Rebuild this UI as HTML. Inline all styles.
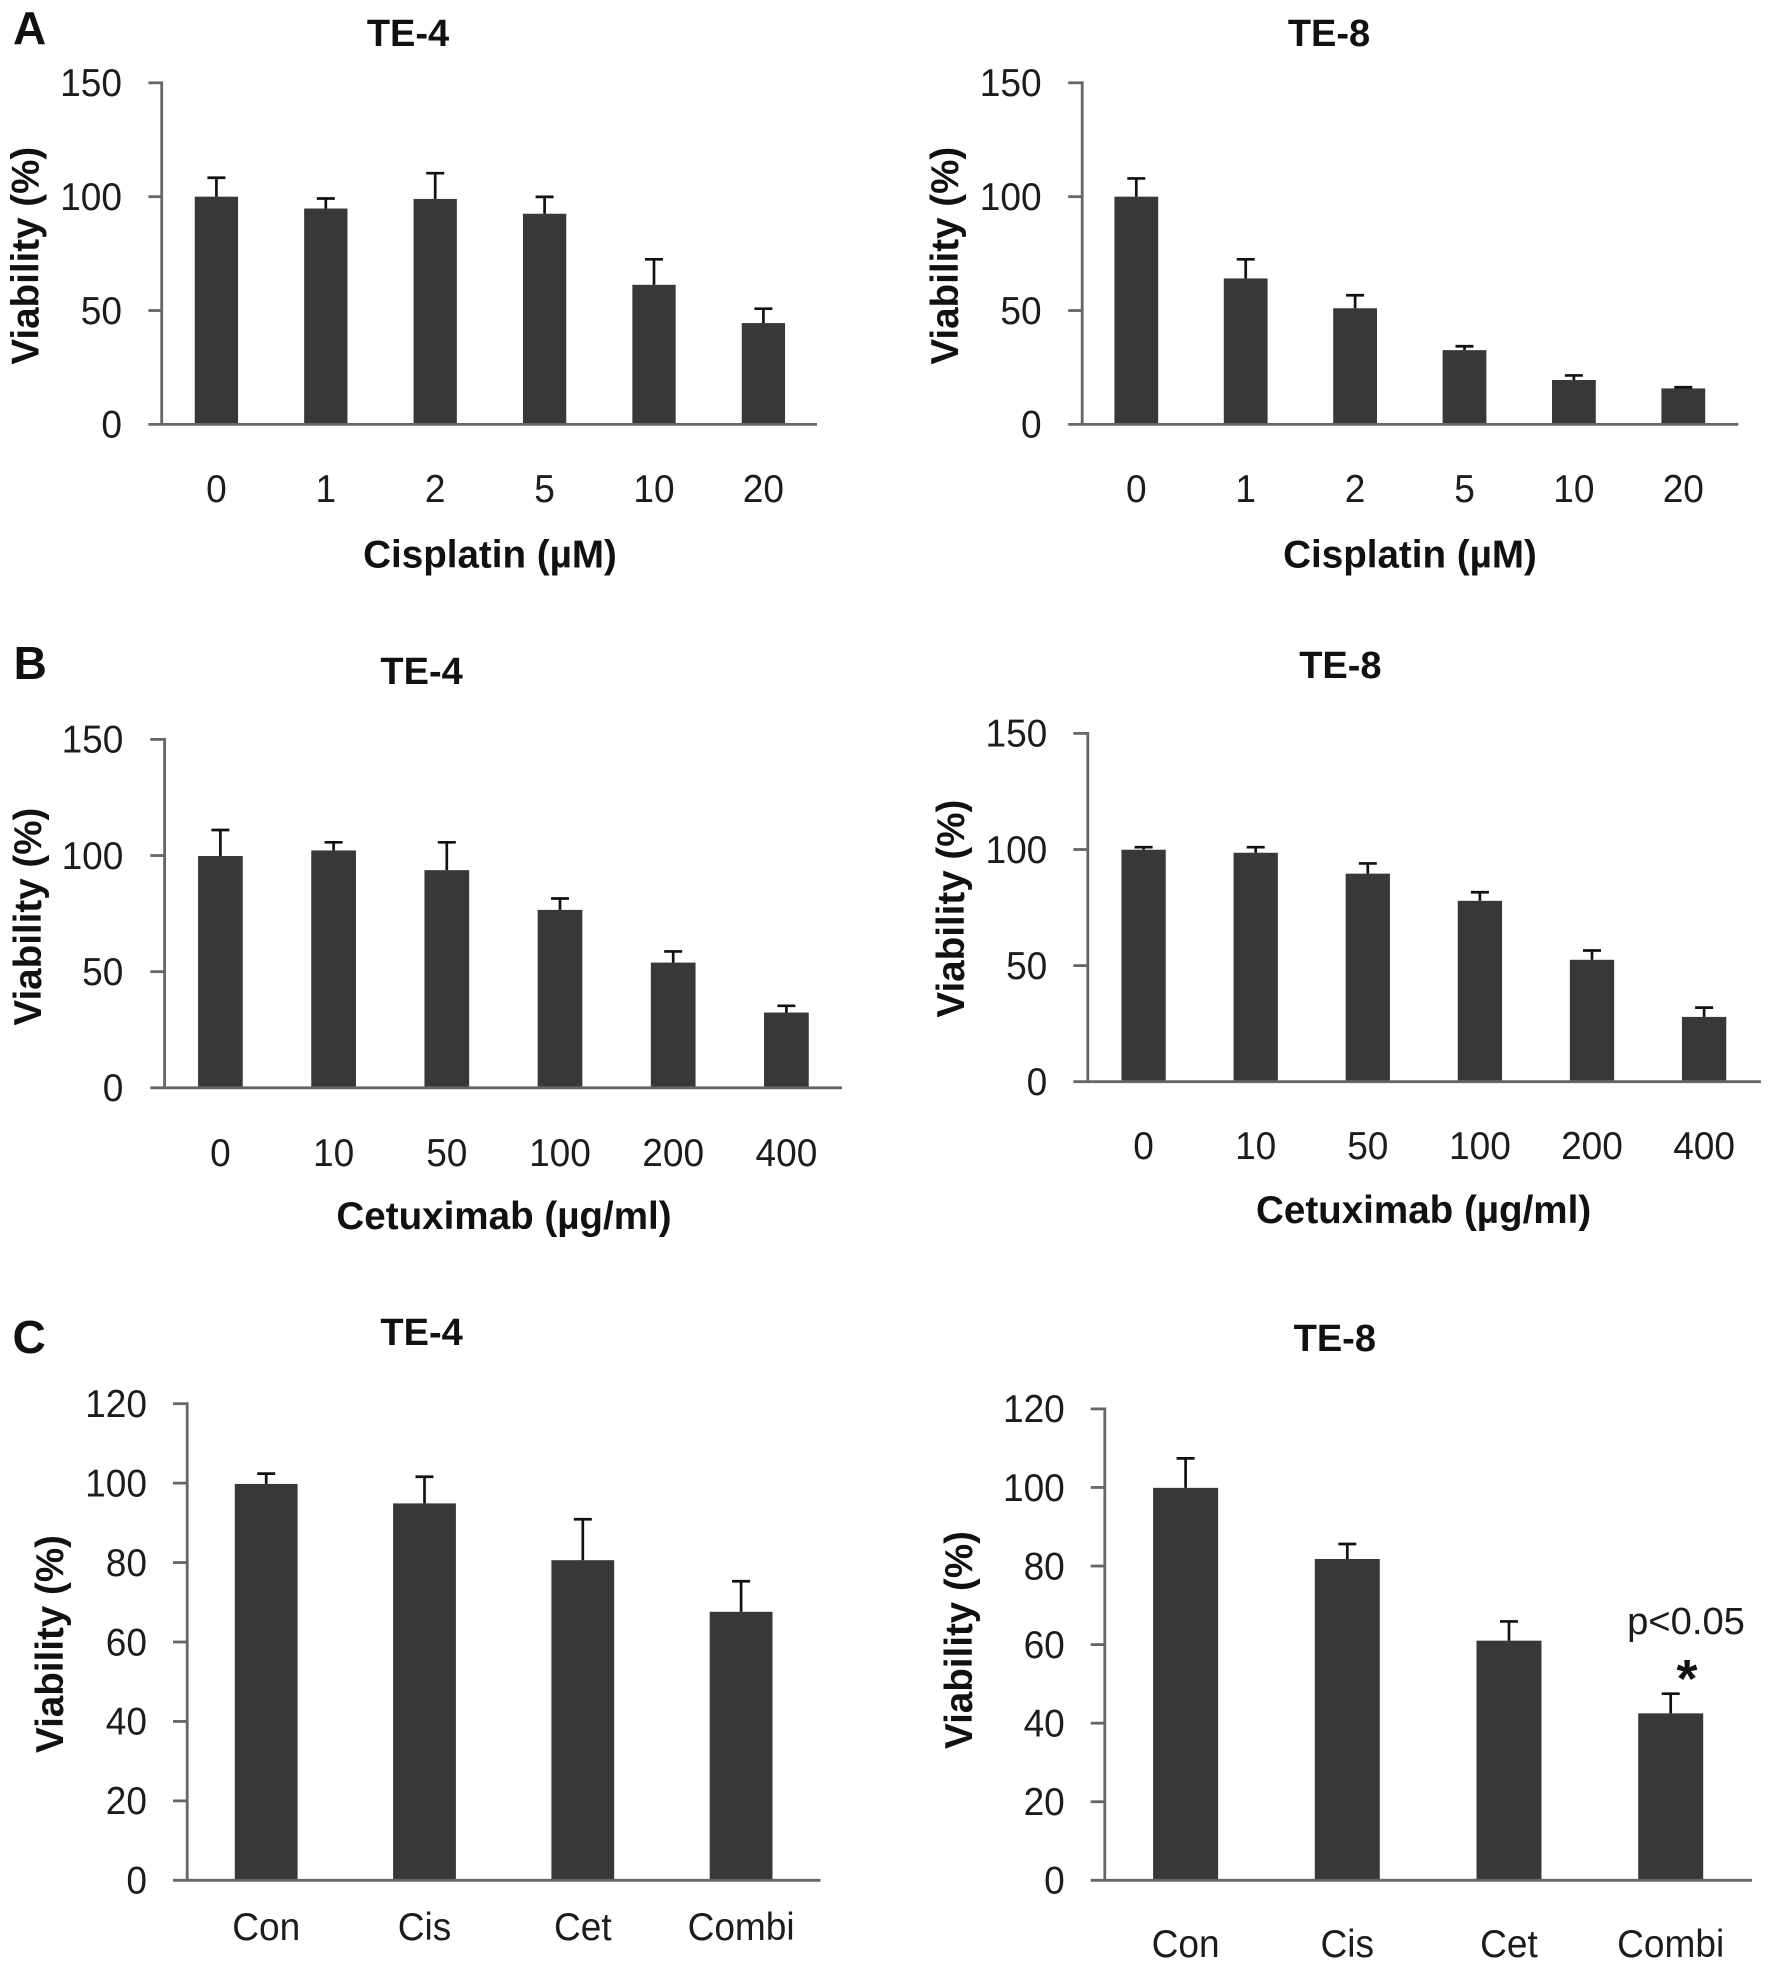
<!DOCTYPE html>
<html lang="en">
<head>
<meta charset="utf-8">
<title>Cell viability bar charts</title>
<style>
html,body{margin:0;padding:0;background:#fff;}
svg{display:block;}
text{font-family:"Liberation Sans","Noto Sans CJK KR",sans-serif;fill:#111;}
.bold{font-weight:bold;}
.title{font-size:38px;font-weight:bold;text-anchor:middle;}
.xlab{font-size:38.6px;font-weight:bold;text-anchor:middle;}
.ylab{font-size:38.6px;font-weight:bold;text-anchor:middle;}
.letter{font-size:46px;font-weight:bold;}
.tick{font-size:39px;fill:#1c1c1c;}
</style>
</head>
<body>
<svg id="figure" width="1772" height="1974" viewBox="0 0 1772 1974" xmlns="http://www.w3.org/2000/svg">
  <rect x="0" y="0" width="1772" height="1974" fill="#ffffff"/>

  <text class="letter" x="13" y="44">A</text>
  <text class="letter" x="13.6" y="679">B</text>
  <text class="letter" x="12.5" y="1353">C</text>

  <text class="title" x="408" y="46">TE-4</text>
  <text class="title" x="1329" y="46">TE-8</text>
  <text class="title" x="421.6" y="684">TE-4</text>
  <text class="title" x="1340.4" y="678">TE-8</text>
  <text class="title" x="421.6" y="1345">TE-4</text>
  <text class="title" x="1334.8" y="1351">TE-8</text>

  <text class="xlab" x="490" y="567.3">Cisplatin (µM)</text>
  <text class="xlab" x="1410" y="567.3">Cisplatin (µM)</text>
  <text class="xlab" x="504" y="1229">Cetuximab (µg/ml)</text>
  <text class="xlab" x="1423.6" y="1223">Cetuximab (µg/ml)</text>

  <text class="ylab" transform="translate(38.5 255.7) rotate(-90)">Viability (%)</text>
  <text class="ylab" transform="translate(958 255.7) rotate(-90)">Viability (%)</text>
  <text class="ylab" transform="translate(41 916.6) rotate(-90)">Viability (%)</text>
  <text class="ylab" transform="translate(964 908.6) rotate(-90)">Viability (%)</text>
  <text class="ylab" transform="translate(63 1644) rotate(-90)">Viability (%)</text>
  <text class="ylab" transform="translate(972 1640) rotate(-90)">Viability (%)</text>

  <text class="tick" style="font-size:38.2px" x="1686" y="1634" text-anchor="middle">p&lt;0.05</text>
  <text class="bold" x="1687" y="1697" text-anchor="middle" font-size="54">*</text>
</svg>

<script>
// ---- chart data ----
const cisplatinDoses = ["0", "1", "2", "5", "10", "20"];
const cetuximabDoses = ["0", "10", "50", "100", "200", "400"];
const treatmentGroups = ["Con", "Cis", "Cet", "Combi"];
const doseTicks = [0, 50, 100, 150];
const treatmentTicks = [0, 20, 40, 60, 80, 100, 120];

const aTe4Values = [100, 94.8, 99, 92.5, 61.3, 44.5];
const aTe4Errors = [8.3, 4.4, 11.3, 7.4, 11.2, 6.3];
const aTe8Values = [100, 64.1, 51, 32.6, 19.5, 15.8];
const aTe8Errors = [8, 8.4, 5.7, 1.7, 2, 0.5];
const bTe4Values = [99.8, 102.2, 93.7, 76.6, 53.9, 32.4];
const bTe4Errors = [11.2, 3.5, 12, 4.9, 4.8, 2.9];
const bTe8Values = [99.9, 98.6, 89.6, 77.9, 52.5, 27.9];
const bTe8Errors = [1.1, 2.4, 4.4, 3.7, 4, 4];
const cTe4Values = [99.8, 94.9, 80.6, 67.6];
const cTe4Errors = [2.6, 6.7, 10.3, 7.7];
const cTe8Values = [99.9, 81.8, 61, 42.5];
const cTe8Errors = [7.5, 3.8, 4.9, 5];

// ---- drawing ----
const NS = "http://www.w3.org/2000/svg";
const figure = document.getElementById("figure");
const AXIS = "#666666", BAR = "#383838", ERR = "#111111";
const TICK_SQUEEZE = 0.95;

function node(tag, group) {
  const n = document.createElementNS(NS, tag);
  group.appendChild(n);
  return n;
}
function seg(group, x1, y1, x2, y2, color, width) {
  const l = node("line", group);
  l.setAttribute("x1", x1);
  l.setAttribute("y1", y1);
  l.setAttribute("x2", x2);
  l.setAttribute("y2", y2);
  l.setAttribute("stroke", color);
  l.setAttribute("stroke-width", width);
  return l;
}
function squeeze(label) {
  label.setAttribute("textLength", label.getComputedTextLength() * TICK_SQUEEZE);
  label.setAttribute("lengthAdjust", "spacingAndGlyphs");
}

function drawPanel(p) {
  const g = node("g", figure);
  
  

  const maxTick = p.ticks[p.ticks.length - 1];
  const yScale = v => p.y0 + (p.yMax - p.y0) * (v / maxTick);
  const xScale = i => p.first + i * p.step;

  p.values.forEach((v, i) => {
    const cx = xScale(i);
    const bar = node("rect", g);
    
    
    bar.setAttribute("x", cx - p.barW / 2);
    bar.setAttribute("y", yScale(v));
    bar.setAttribute("width", p.barW);
    bar.setAttribute("height", p.y0 - yScale(v));
    bar.setAttribute("fill", BAR);

    const top = yScale(v + p.errors[i]);
    const stem = seg(g, cx, yScale(v), cx, top, ERR, 2.7);
    
    
    const cap = seg(g, cx - 9, top, cx + 9, top, ERR, 2.7);
    
    

    const label = node("text", g);
    
    
    label.setAttribute("class", "tick");
    label.setAttribute("x", cx);
    label.setAttribute("y", p.xLabelY);
    label.setAttribute("text-anchor", "middle");
    label.textContent = p.cats[i];
    squeeze(label);
  });

  const yAxis = seg(g, p.axisX, yScale(maxTick) - 1.4, p.axisX, p.y0, AXIS, 2.8);
  
  
  const xAxis = seg(g, p.tickLeft, p.y0, p.xEnd, p.y0, AXIS, 2.8);
  
  

  p.ticks.forEach(t => {
    const y = yScale(t);
    if (t !== 0) {
      const mark = seg(g, p.tickLeft, y, p.axisX, y, AXIS, 2.8);
      
      
    }
    const label = node("text", g);
    
    
    label.setAttribute("class", "tick");
    label.setAttribute("x", p.labelRight);
    label.setAttribute("y", y + 13.3);
    label.setAttribute("text-anchor", "end");
    label.textContent = String(t);
    squeeze(label);
  });
}

drawPanel({id:"a-te4", cats:cisplatinDoses, values:aTe4Values, errors:aTe4Errors, ticks:doseTicks,
  y0:424.4, yMax:82.8, axisX:161.7, tickLeft:148.4, xEnd:817, first:216.4, step:109.4, barW:43.3, xLabelY:502, labelRight:122});
drawPanel({id:"a-te8", cats:cisplatinDoses, values:aTe8Values, errors:aTe8Errors, ticks:doseTicks,
  y0:424.4, yMax:82.8, axisX:1082.2, tickLeft:1068.2, xEnd:1738.3, first:1136.3, step:109.4, barW:43.8, xLabelY:502, labelRight:1041.6});
drawPanel({id:"b-te4", cats:cetuximabDoses, values:bTe4Values, errors:bTe4Errors, ticks:doseTicks,
  y0:1087.8, yMax:739.4, axisX:164.6, tickLeft:150.3, xEnd:842, first:220.4, step:113.2, barW:44.7, xLabelY:1165.8, labelRight:123.4});
drawPanel({id:"b-te8", cats:cetuximabDoses, values:bTe8Values, errors:bTe8Errors, ticks:doseTicks,
  y0:1081.7, yMax:733.4, axisX:1087.8, tickLeft:1073.3, xEnd:1760.9, first:1143.6, step:112.1, barW:44.3, xLabelY:1159, labelRight:1047.3});
drawPanel({id:"c-te4", cats:treatmentGroups, values:cTe4Values, errors:cTe4Errors, ticks:treatmentTicks,
  y0:1880.3, yMax:1403.7, axisX:187.2, tickLeft:173, xEnd:820.5, first:266.2, step:158.3, barW:62.8, xLabelY:1940, labelRight:147});
drawPanel({id:"c-te8", cats:treatmentGroups, values:cTe8Values, errors:cTe8Errors, ticks:treatmentTicks,
  y0:1880.3, yMax:1408.9, axisX:1104.8, tickLeft:1090.7, xEnd:1752, first:1185.6, step:161.7, barW:65, xLabelY:1957, labelRight:1064.8});
</script>
</body>
</html>
